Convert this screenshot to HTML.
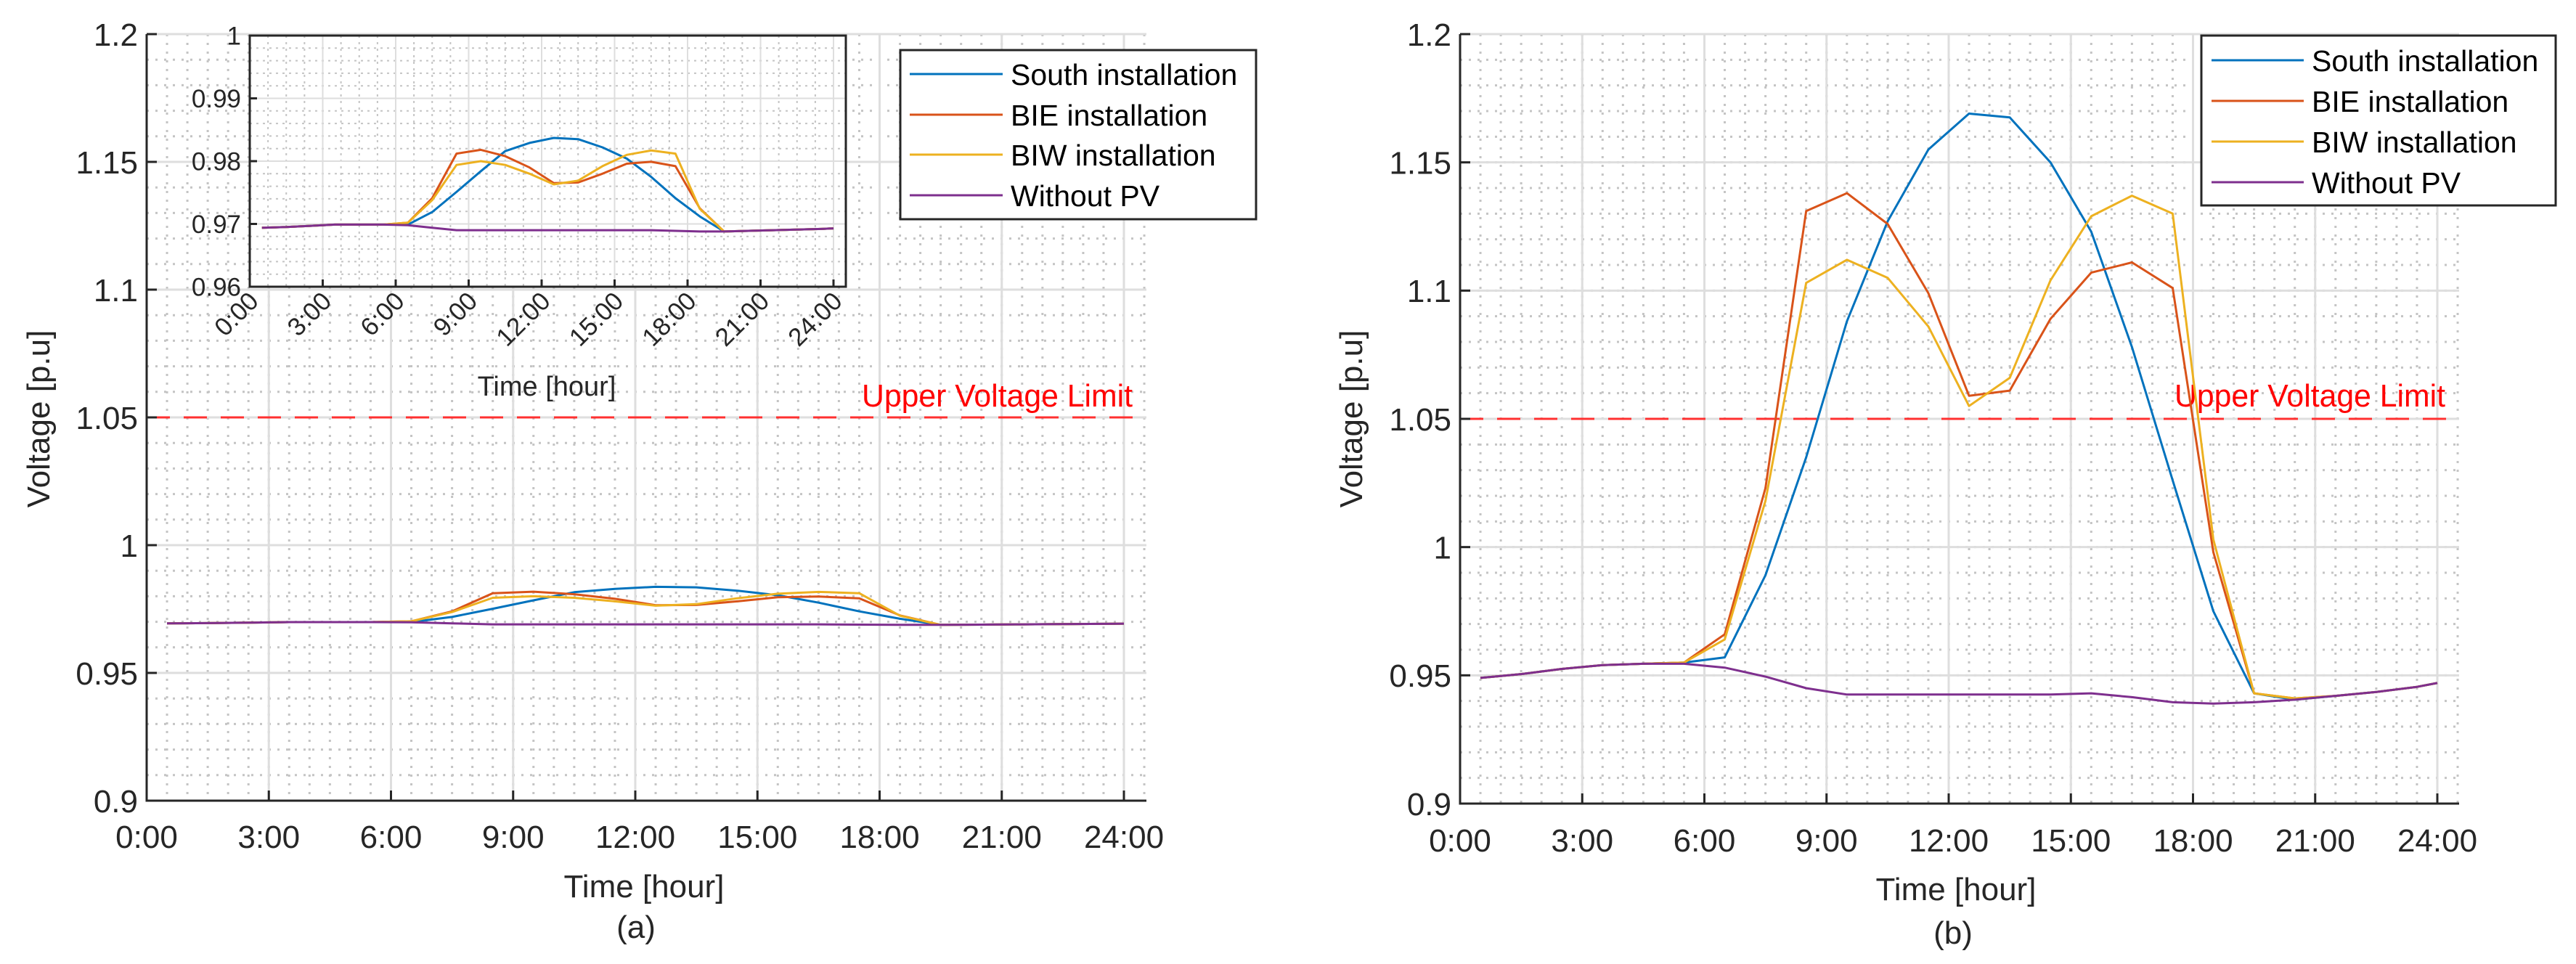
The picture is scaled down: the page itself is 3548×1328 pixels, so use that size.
<!DOCTYPE html>
<html><head><meta charset="utf-8">
<style>
html,body{margin:0;padding:0;background:#fff;}
svg{display:block;font-family:"Liberation Sans",Arial,sans-serif;}
</style></head>
<body>
<svg id="fig" width="3548" height="1328" viewBox="0 0 3548 1328" xmlns="http://www.w3.org/2000/svg"></svg>
<script>
// ---- data ----
const hours = [0.5,1.5,2.5,3.5,4.5,5.5,6.5,7.5,8.5,9.5,10.5,11.5,12.5,13.5,14.5,15.5,16.5,17.5,18.5,19.5,20.5,21.5,22.5,23.5,24];
// panel (a)
const aNoPV  = [0.9694,0.9695,0.9697,0.9699,0.9699,0.9699,0.9698,0.9694,0.969,0.969,0.969,0.969,0.969,0.969,0.969,0.969,0.969,0.9689,0.9688,0.9688,0.9689,0.969,0.9691,0.9692,0.9693];
const aSouth = [0.9694,0.9695,0.9697,0.9699,0.9699,0.9699,0.9699,0.9719,0.9751,0.9784,0.9816,0.9829,0.9837,0.9835,0.9822,0.9804,0.9775,0.9741,0.9712,0.9688,0.9689,0.969,0.9691,0.9692,0.9693];
const aBIE   = [0.9694,0.9695,0.9697,0.9699,0.9699,0.9699,0.9702,0.9741,0.9812,0.9818,0.9808,0.979,0.9765,0.9766,0.978,0.9796,0.9799,0.9792,0.9725,0.9688,0.9689,0.969,0.9691,0.9692,0.9693];
const aBIW   = [0.9694,0.9695,0.9697,0.9699,0.9699,0.9699,0.9702,0.9738,0.9794,0.98,0.9794,0.978,0.9763,0.9769,0.9792,0.981,0.9817,0.9812,0.9724,0.9688,0.9689,0.969,0.9691,0.9692,0.9693];
// panel (b)
const bNoPV  = [0.949,0.9505,0.9525,0.954,0.9545,0.9545,0.953,0.9495,0.945,0.9425,0.9425,0.9425,0.9425,0.9425,0.9425,0.943,0.9415,0.9395,0.939,0.9395,0.9405,0.942,0.9435,0.9455,0.947];
const bSouth = [0.949,0.9505,0.9525,0.954,0.9545,0.955,0.957,0.989,1.035,1.088,1.127,1.155,1.169,1.1675,1.150,1.123,1.078,1.026,0.975,0.943,0.9405,0.942,0.9435,0.9455,0.947];
const bBIE   = [0.949,0.9505,0.9525,0.954,0.9545,0.955,0.966,1.023,1.131,1.138,1.126,1.099,1.059,1.061,1.089,1.107,1.111,1.101,0.998,0.943,0.941,0.942,0.9435,0.9455,0.947];
const bBIW   = [0.949,0.9505,0.9525,0.954,0.9545,0.955,0.964,1.018,1.103,1.112,1.105,1.086,1.055,1.066,1.104,1.129,1.137,1.130,1.003,0.943,0.941,0.942,0.9435,0.9455,0.947];
const xTickHours = [0,3,6,9,12,15,18,21,24];
const xTickLabels = ["0:00","3:00","6:00","9:00","12:00","15:00","18:00","21:00","24:00"];
const yTicksMain = [0.9,0.95,1,1.05,1.1,1.15,1.2];
const yTickLabelsMain = ["0.9","0.95","1","1.05","1.1","1.15","1.2"];
const yTicksInset = [0.96,0.97,0.98,0.99,1];
const yTickLabelsInset = ["0.96","0.97","0.98","0.99","1"];
const seriesNames = ["South installation","BIE installation","BIW installation","Without PV"];
const colors = ["#0072BD","#D95319","#EDB120","#7E2F8E"];
const voltageLimit = 1.05;

const NS = "http://www.w3.org/2000/svg";
const svg = document.getElementById("fig");
function mk(tag, attrs, parent){
  const e = document.createElementNS(NS, tag);
  for (const k in attrs) e.setAttribute(k, attrs[k]);
  (parent||svg).appendChild(e);
  return e;
}

function panel(p){
  const g = mk("g", {});
  
  
  const X = h => p.x0 + (h - p.hMin) * (p.x1 - p.x0) / (p.hMax - p.hMin);
  const Y = v => p.y1 + (v - p.vMin) * (p.y0 - p.y1) / (p.vMax - p.vMin);
  if (p.bg) { const r = mk("rect",{x:p.x0,y:p.y0,width:p.xr-p.x0,height:p.y1-p.y0,fill:"#fff"},g);
    
     }
  // minor grid
  for (let h = p.hMin; h <= (p.hMin + (p.xr-p.x0)*(p.hMax-p.hMin)/(p.x1-p.x0)) + 1e-6; h += p.minorH) {
    const l = mk("line",{x1:X(h),x2:X(h),y1:p.y0,y2:p.y1,stroke:"#c4c4c4","stroke-width":p.gw,"stroke-dasharray":p.dots},g);
    
    
  }
  for (let v = p.vMin; v <= p.vMax + 1e-9; v += p.minorV) {
    const l = mk("line",{x1:p.x0,x2:p.xr,y1:Y(v),y2:Y(v),stroke:"#c4c4c4","stroke-width":p.gw,"stroke-dasharray":p.dots},g);
    
    
  }
  // major grid
  xTickHours.forEach(h => {
    const l = mk("line",{x1:X(h),x2:X(h),y1:p.y0,y2:p.y1,stroke:"#dedede","stroke-width":p.gw},g);
    
    
  });
  p.yTicks.forEach(v => {
    const l = mk("line",{x1:p.x0,x2:p.xr,y1:Y(v),y2:Y(v),stroke:"#dedede","stroke-width":p.gw},g);
    
    
  });
  // limit line
  if (p.limit) {
    const l = mk("line",{x1:p.x0,x2:p.xr,y1:Y(voltageLimit),y2:Y(voltageLimit),stroke:"#ff3030","stroke-width":3,"stroke-dasharray":"32,19"},g);
    
    
    const t = mk("text",{x:p.limitX,y:560,fill:"#ff0000","font-size":44,textLength:373,lengthAdjust:"spacingAndGlyphs"},g);
    t.textContent = "Upper Voltage Limit";
    
    
  }
  // series (purple last so it stays visible)
  const order = [0,1,2,3];
  order.forEach(i => {
    const d = p.series[i];
    const pts = hours.map((h,k) => X(h).toFixed(1)+","+Y(d[k]).toFixed(1)).join(" ");
    const pl = mk("polyline",{points:pts,fill:"none",stroke:colors[i],"stroke-width":p.lw,"stroke-linejoin":"round"},g);
    
    
  });
  // axes
  const ax = mk("path",{d:p.box?`M${p.x0},${p.y0}V${p.y1}H${p.xr}V${p.y0}Z`:`M${p.x0},${p.y0}V${p.y1}H${p.xr}`,fill:"none",stroke:"#262626","stroke-width":3},g);
  
  
  xTickHours.forEach((h,i) => {
    const l = mk("line",{x1:X(h),x2:X(h),y1:p.y1,y2:p.y1-p.tick,stroke:"#262626","stroke-width":3},g);
    
    
    let t;
    if (p.rot) {
      t = mk("text",{x:X(h)+14,y:p.y1+22,"font-size":p.fs,fill:"#262626","text-anchor":"end",transform:`rotate(-45 ${X(h)+14} ${p.y1+22})`},g);
    } else {
      t = mk("text",{x:X(h),y:p.xlabY,"font-size":p.fs,fill:"#262626","text-anchor":"middle"},g);
    }
    t.textContent = xTickLabels[i];
    
    
  });
  p.yTicks.forEach((v,i) => {
    const l = mk("line",{x1:p.x0,x2:p.x0+p.tick,y1:Y(v),y2:Y(v),stroke:"#262626","stroke-width":3},g);
    
    
    const t = mk("text",{x:p.x0-12,y:Y(v)+p.fs*0.36,"font-size":p.fs,fill:"#262626","text-anchor":"end"},g);
    t.textContent = p.yLabels[i];
    
    
  });
  return {X,Y};
}

function legend(lx,ly,w,h,rows,lineX0,lineX1,textX,name){
  const g = mk("g",{});
  
  
  const r = mk("rect",{x:lx,y:ly,width:w,height:h,fill:"#fff",stroke:"#262626","stroke-width":3},g);
  
  
  seriesNames.forEach((n,i) => {
    const l = mk("line",{x1:lineX0,x2:lineX1,y1:rows[i],y2:rows[i],stroke:colors[i],"stroke-width":3},g);
    
    
    const t = mk("text",{x:textX,y:rows[i]+15,"font-size":41,fill:"#000"},g);
    t.textContent = n;
    
    
  });
}

function label(txt,x,y,fs,name,rot){
  const t = mk("text",{x:x,y:y,"font-size":fs,fill:"#262626","text-anchor":"middle"});
  if (rot) t.setAttribute("transform",`rotate(-90 ${x} ${y})`);
  t.textContent = txt;
  
  
}

// Panel (a) main
panel({name:"panel-a-axes",x0:202,x1:1548,xr:1579,hMin:0,hMax:24,y0:47,y1:1103,vMin:0.9,vMax:1.2,
  minorH:0.5,minorV:0.01,yTicks:yTicksMain,yLabels:yTickLabelsMain,series:[aSouth,aBIE,aBIW,aNoPV],
  lw:3,gw:3,dots:"3,9",tick:14,fs:44,xlabY:1168,limit:true,limitX:1187});
// Panel (a) inset
panel({name:"panel-a-inset",x0:344,x1:1148,xr:1165,hMin:0,hMax:24,y0:49,y1:395,vMin:0.96,vMax:1.0,bg:true,box:true,
  minorH:0.75,minorV:0.002,yTicks:yTicksInset,yLabels:yTickLabelsInset,series:[aSouth,aBIE,aBIW,aNoPV],
  lw:3,gw:2,dots:"3,6",tick:10,fs:35,rot:true,limit:false});
label("Time [hour]",753,545,38,"inset-x-axis-title");
// Panel (b)
panel({name:"panel-b-axes",x0:2011,x1:3357,xr:3387,hMin:0,hMax:24,y0:47,y1:1107,vMin:0.9,vMax:1.2,
  minorH:0.5,minorV:0.01,yTicks:yTicksMain,yLabels:yTickLabelsMain,series:[bSouth,bBIE,bBIW,bNoPV],
  lw:3,gw:3,dots:"3,9",tick:14,fs:44,xlabY:1173,limit:true,limitX:2995});

legend(1240,69,490,233,[102,158,213,269],1253,1381,1392,"legend-a");
legend(3032,49,488,234,[83,139,195,251],3046,3173,3184,"legend-b");

label("Voltage [p.u]",68,577,44,"y-axis-title-a",true);
label("Time [hour]",887,1236,44,"x-axis-title-a");
label("(a)",876,1292,44,"panel-a-caption");
label("Voltage [p.u]",1876,577,44,"y-axis-title-b",true);
label("Time [hour]",2694,1240,44,"x-axis-title-b");
label("(b)",2690,1300,44,"panel-b-caption");
</script>
</body></html>
